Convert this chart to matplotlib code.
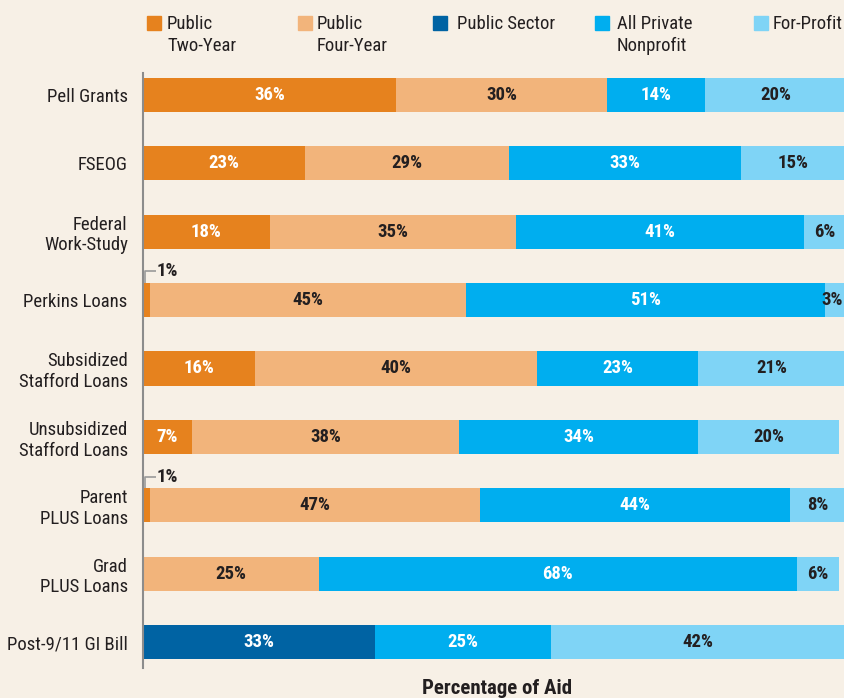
import matplotlib
matplotlib.use("Agg")
import matplotlib.pyplot as plt
from matplotlib.patches import Rectangle
from matplotlib import font_manager as fm
import numpy as np

# pick a condensed font family that has both regular and bold
avail = {}
for f in fm.fontManager.ttflist:
    avail.setdefault(f.name, set()).add(f.weight if isinstance(f.weight, int) else 400)
family = 'DejaVu Sans'
for cand in ['Roboto Condensed', 'Barlow Condensed', 'Barlow Semi Condensed',
             'Asap Condensed', 'Archivo Narrow']:
    if cand in avail and 700 in avail[cand] and 400 in avail[cand]:
        family = cand
        break
plt.rcParams['font.family'] = [family, 'DejaVu Sans']

categories = ["Pell Grants", "FSEOG", "Federal\nWork-Study", "Perkins Loans",
              "Subsidized\nStafford Loans", "Unsubsidized\nStafford Loans",
              "Parent\nPLUS Loans", "Grad\nPLUS Loans", "Post-9/11 GI Bill"]
series_names = ["Public\nTwo-Year", "Public\nFour-Year", "Public Sector",
                "All Private\nNonprofit", "For-Profit"]
public_two_year = [36, 23, 18, 1, 16, 7, 1, 0, 0]
public_four_year = [30, 29, 35, 45, 40, 38, 47, 25, 0]
public_sector = [0, 0, 0, 0, 0, 0, 0, 0, 33]
private_nonprofit = [14, 33, 41, 51, 23, 34, 44, 68, 25]
for_profit = [20, 15, 6, 3, 21, 20, 8, 6, 42]

series = [public_two_year, public_four_year, public_sector, private_nonprofit, for_profit]
colors = ["#E6821E", "#F2B47B", "#0063A3", "#00AEEF", "#7FD4F6"]
label_colors = ["white", "#231F20", "white", "white", "#231F20"]
bg = "#F7F0E6"
dark = "#231F20"

W, H = 844, 698
fig = plt.figure(figsize=(W / 100, H / 100), dpi=100, facecolor=bg)
ax = fig.add_axes([143 / W, 1 - 668 / H, (W - 143) / W, (668 - 73) / H])
ax.set_facecolor(bg)
xmax = 100 * (W - 143) / (846 - 143)

y = np.arange(len(categories))
left = np.zeros(len(categories))
for vals, c, lc in zip(series, colors, label_colors):
    vals = np.array(vals, dtype=float)
    ax.barh(y, vals, left=left, height=0.5, color=c, edgecolor='none')
    for yi, (l, v) in enumerate(zip(left, vals)):
        if v >= 2:
            xc = l + v / 2
            if xc + 1.4 > xmax:
                ax.text(xmax - 0.1, yi, f"{int(v)}%", ha='right', va='center',
                        color=lc, fontsize=13.5, fontweight='bold')
            else:
                ax.text(xc, yi, f"{int(v)}%", ha='center', va='center',
                        color=lc, fontsize=13.5, fontweight='bold')
        elif v > 0:
            ax.plot([0.3, 0.3, 1.9], [yi - 0.25, yi - 0.42, yi - 0.42],
                    color='#9A9A9A', lw=1.2, solid_capstyle='butt', clip_on=False)
            ax.text(1.9, yi - 0.42, f"{int(v)}%", ha='left', va='center',
                    color=dark, fontsize=13.5, fontweight='bold')
    left += vals

ax.set_xlim(0, xmax)
ax.set_ylim(8.38, -0.32)
ax.set_yticks(y)
ax.set_yticklabels(categories, fontsize=13.5, color=dark, linespacing=1.2)
ax.tick_params(axis='y', length=0, pad=11)
ax.set_xticks([])
for s in ['top', 'right', 'bottom']:
    ax.spines[s].set_visible(False)
ax.spines['left'].set_color('#8C8C8C')
ax.spines['left'].set_linewidth(1.5)

fig.text(497 / W, 1 - 688 / H, "Percentage of Aid", ha='center', va='center',
         fontsize=15, fontweight='bold', color=dark)

sq_x = [147, 298, 433, 595, 754]
tx_x = [167, 317, 457, 617, 773]
for sx, tx, name, c in zip(sq_x, tx_x, series_names, colors):
    fig.patches.append(Rectangle((sx / W, 1 - 30 / H), 14 / W, 14 / H,
                                 transform=fig.transFigure, color=c))
    fig.text(tx / W, 1 - 15 / H, name, ha='left', va='top', fontsize=13.5,
             color=dark, linespacing=1.3)

fig.savefig("out.png", dpi=100, facecolor=bg)
